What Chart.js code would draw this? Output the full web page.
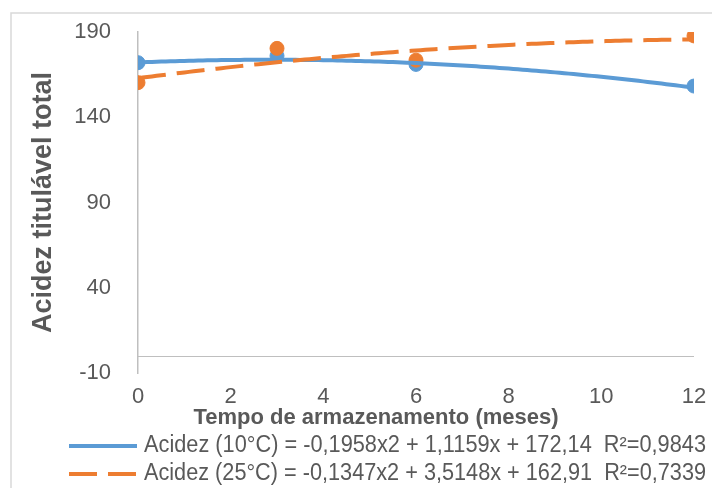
<!DOCTYPE html>
<html>
<head>
<meta charset="utf-8">
<script src="https://cdn.jsdelivr.net/npm/chart.js@4.4.0/dist/chart.umd.min.js"></script>
<style>
  html, body { margin: 0; padding: 0; background: #ffffff; }
  #wrap { width: 712px; height: 488px; }
</style>
</head>
<body>
<div id="wrap"><canvas id="c" width="712" height="488"></canvas></div>
<script>
// Storage time (months) and total titratable acidity at each storage temperature
const months = [0, 3, 6, 12];
const acidez10 = [172.0, 176.0, 171.0, 158.3];
const acidez25 = [160.3, 180.4, 173.5, 187.7];

// Polynomial trendline coefficients: a*x^2 + b*x + c
const trend10 = [-0.1958, 1.1159, 172.14];
const trend25 = [-0.1347, 3.5148, 162.91];

const xTickValues = [0, 2, 4, 6, 8, 10, 12];
const yTickValues = [-10, 40, 90, 140, 190];

const legendTexts = [
  'Acidez (10°C) = -0,1958x2 + 1,1159x + 172,14  R²=0,9843',
  'Acidez (25°C) = -0,1347x2 + 3,5148x + 162,91  R²=0,7339'
];
const xTitle = 'Tempo de armazenamento (meses)';
const yTitle = 'Acidez titulável total';

const BLUE = '#5B9BD5';
const ORANGE = '#ED7D31';
const TEXT = '#595959';
const AXIS = '#BFBFBF';
const FONT = '"Liberation Sans", Arial, sans-serif';

function points(xs, ys) { return xs.map((x, i) => ({ x: x, y: ys[i] })); }

// Samples the fitted quadratic along the month range
function trendCurve(coefs) {
  const pts = [];
  const x0 = months[0], x1 = months[months.length - 1];
  for (let x = x0; x <= x1 + 1e-9; x += 0.1) {
    pts.push({ x: x, y: coefs[0] * x * x + coefs[1] * x + coefs[2] });
  }
  return pts;
}

// Light outer frame of the chart
const framePlugin = {
  id: 'frame',
  beforeDraw(chart) {
    const ctx = chart.ctx;
    ctx.save();
    ctx.strokeStyle = '#D9D9D9';
    ctx.lineWidth = 1.5;
    ctx.strokeRect(11, 13, 760, 520);
    ctx.restore();
  }
};

// Horizontal axis line crossing at y = 0
const zeroLinePlugin = {
  id: 'zeroLine',
  beforeDatasetsDraw(chart) {
    const { ctx, scales } = chart;
    const y = Math.round(scales.y.getPixelForValue(0)) + 0.5;
    ctx.save();
    ctx.strokeStyle = AXIS;
    ctx.lineWidth = 1;
    ctx.beginPath();
    ctx.moveTo(scales.x.getPixelForValue(xTickValues[0]), y);
    ctx.lineTo(scales.x.getPixelForValue(xTickValues[xTickValues.length - 1]), y);
    ctx.stroke();
    ctx.restore();
  }
};

// X-axis title and the trendline legend under the plot
const bottomTextPlugin = {
  id: 'bottomText',
  afterDraw(chart) {
    const ctx = chart.ctx;
    ctx.save();
    ctx.fillStyle = TEXT;
    ctx.font = 'bold 22px ' + FONT;
    ctx.textAlign = 'center';
    ctx.textBaseline = 'middle';
    ctx.fillText(xTitle, 376, 418);

    const rows = [446, 474];
    const trendSets = [chart.data.datasets[2], chart.data.datasets[3]];
    rows.forEach((y, i) => {
      const ds = trendSets[i];
      ctx.strokeStyle = ds.borderColor;
      ctx.lineWidth = 4;
      ctx.lineCap = 'butt';
      ctx.setLineDash(ds.borderDash || []);
      ctx.beginPath();
      ctx.moveTo(69, y);
      ctx.lineTo(137, y);
      ctx.stroke();
      ctx.setLineDash([]);

      ctx.font = '23px ' + FONT;
      ctx.textAlign = 'left';
      ctx.textBaseline = 'middle';
      const w = ctx.measureText(legendTexts[i]).width;
      const target = 562;
      ctx.save();
      ctx.translate(144, y);
      ctx.scale(target / w, 1);
      ctx.fillText(legendTexts[i], 0, 0);
      ctx.restore();
    });
    ctx.restore();
  }
};

// Stacking: lower "order" is painted later, so trendlines sit above the markers
new Chart(document.getElementById('c'), {
  type: 'scatter',
  data: {
    datasets: [
      {
        label: 'Acidez (10°C)',
        data: points(months, acidez10),
        backgroundColor: BLUE, borderColor: BLUE,
        pointRadius: 7, pointHoverRadius: 7, showLine: false, order: 3
      },
      {
        label: 'Acidez (25°C)',
        data: points(months, acidez25),
        backgroundColor: ORANGE, borderColor: ORANGE,
        pointRadius: 7, pointHoverRadius: 7, showLine: false, order: 2
      },
      {
        label: legendTexts[0],
        data: trendCurve(trend10),
        type: 'line', showLine: true, order: 1,
        borderColor: BLUE, borderWidth: 4, pointRadius: 0, tension: 0, fill: false
      },
      {
        label: legendTexts[1],
        data: trendCurve(trend25),
        type: 'line', showLine: true, order: 0,
        borderColor: ORANGE, borderWidth: 4, borderDash: [28, 11], borderCapStyle: 'butt',
        pointRadius: 0, tension: 0, fill: false
      }
    ]
  },
  options: {
    responsive: false,
    animation: false,
    devicePixelRatio: 1,
    layout: { padding: { left: 12, right: 18, top: 32, bottom: 51 } },
    plugins: { legend: { display: false }, tooltip: { enabled: false } },
    scales: {
      x: {
        type: 'linear',
        min: xTickValues[0], max: xTickValues[xTickValues.length - 1],
        afterBuildTicks(s) { s.ticks = xTickValues.map(v => ({ value: v })); },
        afterFit(s) { s.height = 64; s.paddingLeft = 0; s.paddingRight = 0; },
        grid: { display: false },
        border: { display: false },
        ticks: { color: TEXT, font: { family: FONT, size: 22 }, padding: 3, maxRotation: 0 }
      },
      y: {
        type: 'linear',
        min: yTickValues[0], max: yTickValues[yTickValues.length - 1],
        afterBuildTicks(s) { s.ticks = yTickValues.map(v => ({ value: v })); },
        afterFit(s) { s.width = 138 - 12; s.paddingTop = 0; s.paddingBottom = 0; },
        grid: { display: false },
        border: { display: true, color: AXIS, width: 1.5 },
        ticks: { color: TEXT, font: { family: FONT, size: 22 }, padding: 19 },
        title: {
          display: true, text: yTitle, color: TEXT,
          font: { family: FONT, size: 27, weight: 'bold' },
          padding: { top: 15, bottom: 0 }
        }
      }
    }
  },
  plugins: [framePlugin, zeroLinePlugin, bottomTextPlugin]
});
</script>
</body>
</html>
